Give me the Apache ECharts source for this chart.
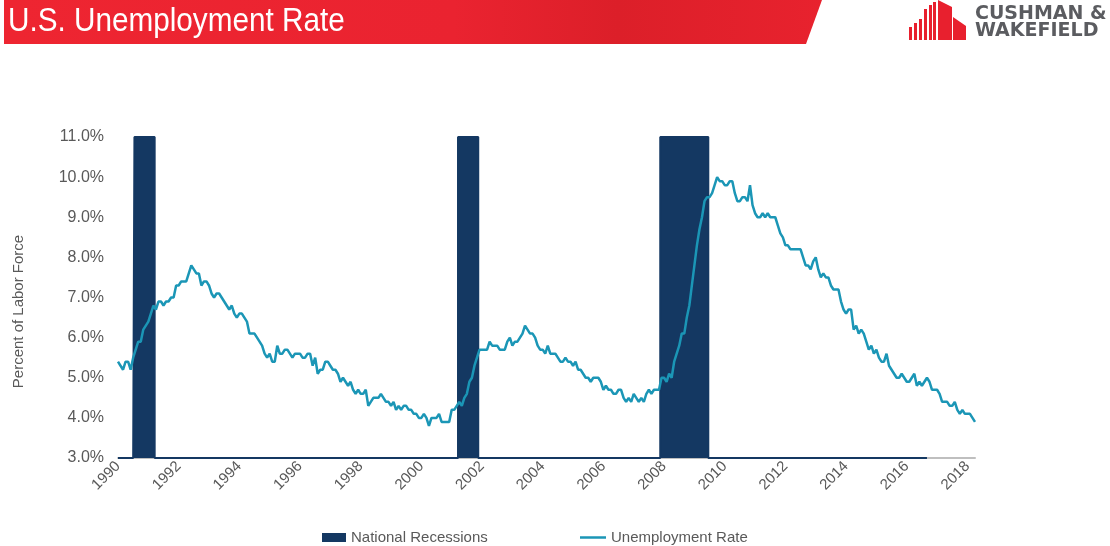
<!DOCTYPE html>
<html>
<head>
<meta charset="utf-8">
<script src="https://cdn.jsdelivr.net/npm/echarts@6/dist/echarts.min.js"></script>
<style>
  html, body { margin: 0; padding: 0; background: #fff; }
  #chart { width: 1110px; height: 546px; }
</style>
</head>
<body>
<div id="chart"></div>
<script>
// monthly unemployment rate, Jan 1990 - Apr 2018
var startYear = 1990
var rate = [
  5.4, 5.3, 5.2, 5.4, 5.4, 5.2, 5.5, 5.7, 5.9, 5.9, 6.2, 6.3,
  6.4, 6.6, 6.8, 6.7, 6.9, 6.9, 6.8, 6.9, 6.9, 7.0, 7.0, 7.3,
  7.3, 7.4, 7.4, 7.4, 7.6, 7.8, 7.7, 7.6, 7.6, 7.3, 7.4, 7.4,
  7.3, 7.1, 7.0, 7.1, 7.1, 7.0, 6.9, 6.8, 6.7, 6.8, 6.6, 6.5,
  6.6, 6.6, 6.5, 6.4, 6.1, 6.1, 6.1, 6.0, 5.9, 5.8, 5.6, 5.5,
  5.6, 5.4, 5.4, 5.8, 5.6, 5.6, 5.7, 5.7, 5.6, 5.5, 5.6, 5.6,
  5.6, 5.5, 5.5, 5.6, 5.6, 5.3, 5.5, 5.1, 5.2, 5.2, 5.4, 5.4,
  5.3, 5.2, 5.2, 5.1, 4.9, 5.0, 4.9, 4.8, 4.9, 4.7, 4.6, 4.7,
  4.6, 4.6, 4.7, 4.3, 4.4, 4.5, 4.5, 4.5, 4.6, 4.5, 4.4, 4.4,
  4.3, 4.4, 4.2, 4.3, 4.2, 4.3, 4.3, 4.2, 4.2, 4.1, 4.1, 4.0,
  4.0, 4.1, 4.0, 3.8, 4.0, 4.0, 4.0, 4.1, 3.9, 3.9, 3.9, 3.9,
  4.2, 4.2, 4.3, 4.4, 4.3, 4.5, 4.6, 4.9, 5.0, 5.3, 5.5, 5.7,
  5.7, 5.7, 5.7, 5.9, 5.8, 5.8, 5.8, 5.7, 5.7, 5.7, 5.9, 6.0,
  5.8, 5.9, 5.9, 6.0, 6.1, 6.3, 6.2, 6.1, 6.1, 6.0, 5.8, 5.7,
  5.7, 5.6, 5.8, 5.6, 5.6, 5.6, 5.5, 5.4, 5.4, 5.5, 5.4, 5.4,
  5.3, 5.4, 5.2, 5.2, 5.1, 5.0, 5.0, 4.9, 5.0, 5.0, 5.0, 4.9,
  4.7, 4.8, 4.7, 4.7, 4.6, 4.6, 4.7, 4.7, 4.5, 4.4, 4.5, 4.4,
  4.6, 4.5, 4.4, 4.5, 4.4, 4.6, 4.7, 4.6, 4.7, 4.7, 4.7, 5.0,
  5.0, 4.9, 5.1, 5.0, 5.4, 5.6, 5.8, 6.1, 6.1, 6.5, 6.8, 7.3,
  7.8, 8.3, 8.7, 9.0, 9.4, 9.5, 9.5, 9.6, 9.8, 10.0, 9.9, 9.9,
  9.8, 9.8, 9.9, 9.9, 9.6, 9.4, 9.4, 9.5, 9.5, 9.4, 9.8, 9.3,
  9.1, 9.0, 9.0, 9.1, 9.0, 9.1, 9.0, 9.0, 9.0, 8.8, 8.6, 8.5,
  8.3, 8.3, 8.2, 8.2, 8.2, 8.2, 8.2, 8.0, 7.8, 7.8, 7.7, 7.9,
  8.0, 7.7, 7.5, 7.6, 7.5, 7.5, 7.3, 7.2, 7.2, 7.2, 6.9, 6.7,
  6.6, 6.7, 6.7, 6.2, 6.3, 6.1, 6.2, 6.1, 5.9, 5.7, 5.8, 5.6,
  5.7, 5.5, 5.4, 5.4, 5.6, 5.3, 5.2, 5.1, 5.0, 5.0, 5.1, 5.0,
  4.9, 4.9, 5.0, 5.1, 4.8, 4.9, 4.8, 4.9, 5.0, 4.9, 4.7, 4.7,
  4.7, 4.6, 4.4, 4.4, 4.4, 4.3, 4.3, 4.4, 4.2, 4.1, 4.2, 4.1,
  4.1, 4.1, 4.0, 3.9
]

// recession months (first and last flagged month)
var recessions = [
  ['1990-08', '1991-03'],
  ['2001-04', '2001-11'],
  ['2007-12', '2009-06']
]
var recessionEnd = '2016-09'   // last month of the recession series

var yMin = 3
var yMax = 11

var months = []
for (var i = 0; i < rate.length; i++) {
  var y = startYear + Math.floor(i / 12)
  var m = (i % 12) + 1
  months.push(y + '-' + (m < 10 ? '0' + m : m))
}

var recessionData = []
for (var i = 0; i < months.length; i++) {
  if (months[i] > recessionEnd) break
  var inside = recessions.some(function (r) { return months[i] >= r[0] && months[i] <= r[1] })
  recessionData.push(inside ? yMax : yMin)
}

var navy = '#143862'
var teal = '#1b96b6'
var grey = '#595959'
var red = '#e8202e'

var chart = echarts.init(document.getElementById('chart'))

// header: red banner + logo
var logoBars = [
  [909, 27, 3], [914, 23, 3], [919, 19, 3], [924, 9, 3], [929, 5, 3], [933, 2, 3]
]
var graphics = [
  {
    type: 'polygon',
    shape: { points: [[4, 0], [822, 0], [806, 44], [4, 44]] },
    style: {
      fill: new echarts.graphic.LinearGradient(0, 0, 1, 0, [
        { offset: 0, color: '#ee2531' },
        { offset: 0.55, color: '#ea2330' },
        { offset: 0.75, color: '#dc1f29' },
        { offset: 1, color: '#e8222e' }
      ])
    }
  },
  {
    type: 'text',
    left: 8,
    top: 5,
    scaleX: 0.9,
    style: {
      text: 'U.S. Unemployment Rate',
      fill: '#fff',
      font: '33px "Liberation Sans", Arial, sans-serif'
    }
  },
  {
    type: 'polygon',
    shape: { points: [[938, 0], [952, 7], [952, 40], [938, 40]] },
    style: { fill: red }
  },
  {
    type: 'polygon',
    shape: { points: [[953, 17], [966, 26], [966, 40], [953, 40]] },
    style: { fill: red }
  },
  {
    type: 'text',
    left: 975,
    top: 5,
    style: { text: 'CUSHMAN &', fill: '#5b5c60', font: 'bold 19px "DejaVu Sans", sans-serif' }
  },
  {
    type: 'text',
    left: 975,
    top: 22,
    style: { text: 'WAKEFIELD', fill: '#5b5c60', font: 'bold 19px "DejaVu Sans", sans-serif' }
  }
]
logoBars.forEach(function (b) {
  graphics.push({
    type: 'rect',
    shape: { x: b[0], y: b[1], width: b[2], height: 40 - b[1] },
    style: { fill: red }
  })
})

var legendText = { color: grey, fontSize: 15 }

var option = {
  backgroundColor: '#fff',
  textStyle: { fontFamily: '"Liberation Sans", Arial, sans-serif' },
  animation: false,
  graphic: graphics,
  grid: { left: 118, right: 135, top: 137, bottom: 88 },
  legend: [
    {
      left: 317,
      top: 525,
      itemWidth: 24,
      itemHeight: 9,
      icon: 'rect',
      textStyle: legendText,
      data: ['National Recessions']
    },
    {
      left: 575,
      top: 525,
      itemWidth: 26,
      itemHeight: 2.5,
      icon: 'rect',
      textStyle: legendText,
      data: ['Unemployment Rate']
    }
  ],
  xAxis: {
    type: 'category',
    data: months,
    boundaryGap: false,
    axisLine: { lineStyle: { color: '#bfbfbf', width: 2 } },
    axisTick: { show: false },
    axisLabel: {
      interval: 23,
      rotate: 45,
      color: grey,
      fontSize: 15,
      margin: 6,
      formatter: function (v) { return v.slice(0, 4) }
    },
    splitLine: { show: false }
  },
  yAxis: {
    type: 'value',
    min: yMin,
    max: yMax,
    interval: 1,
    name: 'Percent of Labor Force',
    nameLocation: 'middle',
    nameGap: 92,
    nameTextStyle: { color: grey, fontSize: 15, padding: [0, 28, 0, 0] },
    axisLine: { show: false },
    axisTick: { show: false },
    splitLine: { show: false },
    axisLabel: {
      color: grey,
      fontSize: 16,
      margin: 14,
      formatter: function (v) { return v.toFixed(1) + '%' }
    }
  },
  series: [
    {
      name: 'National Recessions',
      type: 'line',
      data: recessionData,
      step: 'middle',
      symbol: 'none',
      color: navy,
      lineStyle: { color: navy, width: 2 },
      areaStyle: { color: navy, opacity: 1, origin: 'start' },
      z: 1
    },
    {
      name: 'Unemployment Rate',
      type: 'line',
      data: rate,
      symbol: 'none',
      color: teal,
      lineStyle: { color: teal, width: 2.5 },
      z: 3
    }
  ]
}

chart.setOption(option)
</script>
</body>
</html>
